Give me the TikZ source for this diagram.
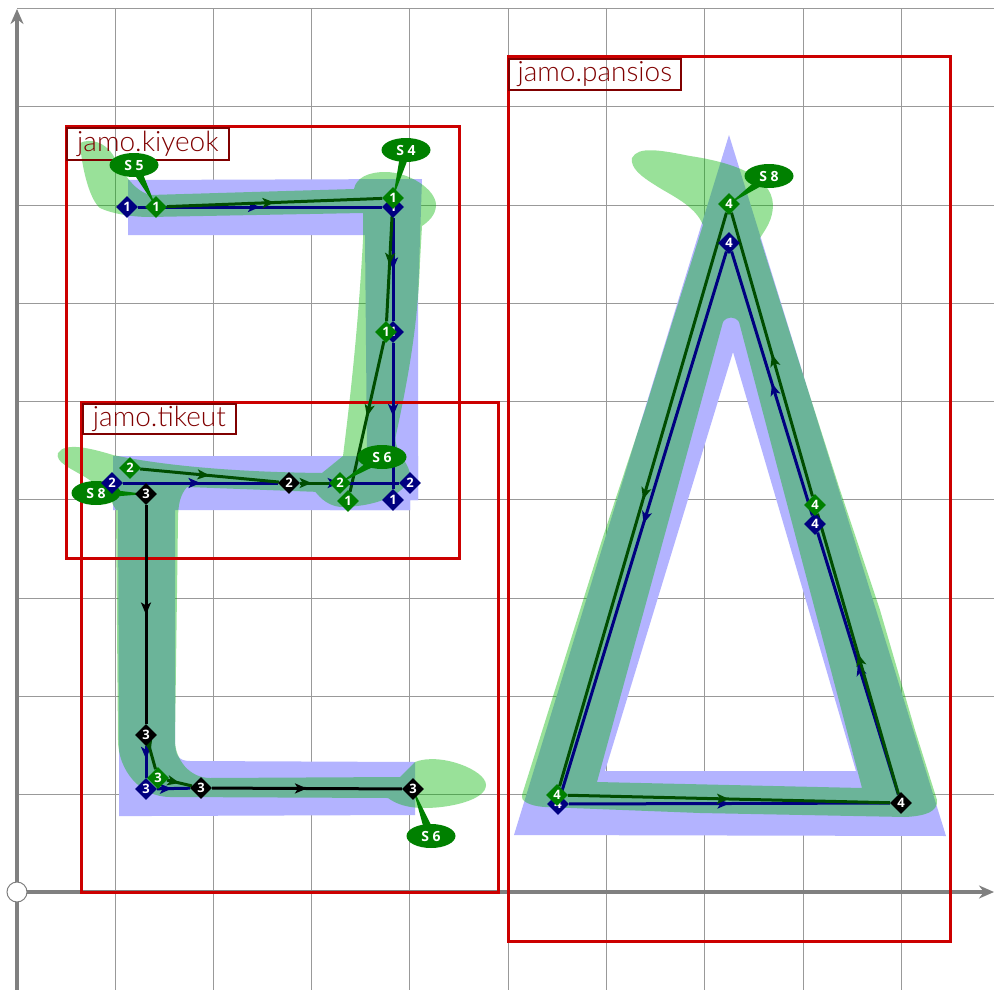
\documentclass[tikz,border=0pt]{standalone}
\usepackage{fontspec}
\setsansfont{Open Sans}
\newfontfamily\labelfont[UprightFont=* Light]{Lato}
\usetikzlibrary{shapes.geometric,arrows.meta,calc,decorations.markings}
\definecolor{jamoblue}{HTML}{B3B3FF}
\definecolor{jamogreen}{RGB}{0,182,0}
\definecolor{framered}{HTML}{CC0000}
\definecolor{labelred}{HTML}{800000}
\definecolor{strokegreen}{HTML}{004D00}
\definecolor{nodegreen}{HTML}{008000}
\definecolor{axisgray}{HTML}{808080}
\pgfdeclarelayer{back}
\pgfdeclarelayer{lines}
\pgfsetlayers{back,lines,main}
\begin{document}
\begin{tikzpicture}[
                x=1pt,y=-1pt,
                gridline/.style={
                    draw=axisgray!80,
                    line width=1pt
                },
                axisline/.style={
                    draw=axisgray,
                    line width=4.5pt
                },
                axisarrow/.style={
                    axisline,
                    -{Stealth[length=15pt,width=13pt]}
                },
                origin/.style={
                    circle,
                    draw=axisgray,
                    fill=white,
                    line width=1pt,
                    minimum size=20pt,
                    inner sep=0pt
                },
                frame/.style={
                    draw=framered,
                    line width=3pt
                },
                jamolabel/.style={
                    draw=labelred,
                    line width=1.8pt,
                    anchor=north west,
                    text=labelred,
                    inner sep=0pt,
                    font=\labelfont\fontsize{28}{30}\selectfont
                },
                point/.style={
                    diamond,
                    minimum width=22pt,
                    minimum height=22pt,
                    inner sep=0pt,
                    text=white,
                    font=\sffamily\bfseries\fontsize{13}{13}\selectfont
                },
                pointblue/.style={point,fill=blue!50!black},
                pointgreen/.style={point,fill=nodegreen},
                pointblack/.style={point,fill=black},
                callout/.style={
                    ellipse,
                    fill=nodegreen,
                    minimum width=49pt,
                    minimum height=24pt,
                    inner sep=0pt,
                    text=white,
                    font=\sffamily\bfseries\fontsize{14}{14}\selectfont
                },
                tail/.style={
                    fill=nodegreen
                },
                midarrow/.style={
                    postaction={decorate,decoration={markings,
                        mark=at position #1 with {\arrow{Stealth[length=12pt,width=10pt,inset=3pt]}}}}
                },
                midarrow/.default=0.5,
                strokeblue/.style={draw=blue!50!black,line width=3pt,midarrow=#1},
                strokeblue/.default=0.5,
                strokegr/.style={draw=strokegreen,line width=3pt,midarrow=#1},
                strokegr/.default=0.5,
                strokeblack/.style={draw=black,line width=3pt,midarrow=#1},
                strokeblack/.default=0.5
            ]
    \useasboundingbox (0,0) rectangle (994,990);

    % callouts
    \node[callout] (s5) at (134,165) {S 5};
    \node[callout] (s4) at (406,150) {S 4};
    \node[callout] (s6a) at (382,457) {S 6};
    \node[callout] (s8a) at (96,493) {S 8};
    \node[callout] (s6b) at (431,836) {S 6};
    \node[callout] (s8b) at (769,176) {S 8};

    % kiyeok points
    \node[pointblue] (kb1) at (127,207) {1};
    \node[pointblue] (kb2) at (393,207) {1};
    \node[pointblue] (kb3) at (393,332) {1};
    \node[pointblue] (kb4) at (393,500) {1};
    \node[pointgreen] (kg1) at (156,207) {1};
    \node[pointgreen] (kg2) at (393,198) {1};
    \node[pointgreen] (kg3) at (386,332) {1};
    \node[pointgreen] (kg4) at (348,501) {1};

    % tikeut points
    \node[pointblue] (tb1) at (112,483) {2};
    \node[pointblue] (tb2) at (410,483) {2};
    \node[pointblue] (tb3) at (146,789) {3};
    \node[pointgreen] (tg1) at (130,468) {2};
    \node[pointgreen] (tg2) at (340,483) {2};
    \node[pointgreen] (tg3) at (158,778) {3};
    \node[pointblack] (tk1) at (146,494) {3};
    \node[pointblack] (tk2) at (146,735) {3};
    \node[pointblack] (tk3) at (201,788) {3};
    \node[pointblack] (tk4) at (413,789) {3};
    \node[pointblack] (tk5) at (289,483) {2};

    % pansios points
    \node[pointblue] (pb1) at (558,804) {4};
    \node[pointblue] (pb2) at (815,524) {4};
    \node[pointblue] (pb3) at (729,243) {4};
    \node[pointgreen] (pg1) at (557,795) {4};
    \node[pointgreen] (pg2) at (815,505) {4};
    \node[pointgreen] (pg3) at (729,204) {4};
    \node[pointblack] (pk1) at (901,803) {4};

    \begin{pgfonlayer}{back}
        \fill[white] (0,0) rectangle (994,990);

        % grid
        \draw[gridline] (115,9) -- (115,990);
        \draw[gridline] (213,9) -- (213,990);
        \draw[gridline] (311,9) -- (311,990);
        \draw[gridline] (409,9) -- (409,990);
        \draw[gridline] (508,9) -- (508,990);
        \draw[gridline] (606,9) -- (606,990);
        \draw[gridline] (704,9) -- (704,990);
        \draw[gridline] (803,9) -- (803,990);
        \draw[gridline] (901,9) -- (901,990);
        \draw[gridline] (17,9) -- (994,9);
        \draw[gridline] (17,107) -- (994,107);
        \draw[gridline] (17,205) -- (994,205);
        \draw[gridline] (17,303) -- (994,303);
        \draw[gridline] (17,401) -- (994,401);
        \draw[gridline] (17,499) -- (994,499);
        \draw[gridline] (17,598) -- (994,598);
        \draw[gridline] (17,696) -- (994,696);
        \draw[gridline] (17,794) -- (994,794);

        % axes
        \coordinate (xend) at (994,892);
        \coordinate (yend) at (17,9);
        \coordinate (ybottom) at (17,990);
        \draw[axisarrow] (17,892) -- (xend);
        \draw[axisarrow] (17,892) -- (yend);
        \draw[axisline] (17,892) -- (ybottom);

        % blue outlines
        \fill[jamoblue] (128,180) -- (422,179) -- (418,300) -- (418,500) -- (410,500) -- (410,510)
            -- (330,510) -- (330,456) -- (367,456) -- (365,235) -- (128,235) -- cycle;
        \fill[jamoblue] (113,456) -- (418,456) -- (418,500) -- (410,500) -- (410,510) -- (175,510)
            -- (175,740) .. controls (175,755) and (178,761) .. (190,761) -- (415,762) -- (415,815)
            -- (150,816) -- (119,816) -- (119,740) -- (118,510) -- (113,510) -- cycle;
        \fill[jamoblue,even odd rule] (729,135) -- (946,836) -- (514,835) -- cycle
            (733,352) -- (856,771) -- (605,771) -- cycle;

        % green strokes
        \fill[jamogreen,fill opacity=0.4]
            (80,143) .. controls (90,138) and (105,142) .. (113,155)
                .. controls (122,170) and (132,190) .. (150,195) -- (354,189)
                .. controls (356,178) and (368,172) .. (385,172)
                .. controls (410,172) and (436,190) .. (436,205)
                .. controls (436,215) and (428,222) .. (422,226) -- (420,262)
                .. controls (418,320) and (410,370) .. (396,435)
                .. controls (392,450) and (412,465) .. (410,477)
                .. controls (405,495) and (375,507) .. (340,507)
                .. controls (325,505) and (318,495) .. (313,489) -- (322,473) -- (343,456)
                .. controls (350,400) and (358,330) .. (363,240) -- (363,213) -- (150,217)
                .. controls (130,217) and (110,213) .. (100,208)
                .. controls (90,200) and (82,170) .. (80,143) -- cycle
            (58,453) .. controls (65,442) and (90,448) .. (113,455)
                .. controls (160,465) and (230,472) .. (322,473) -- (345,480) -- (320,492) -- (187,487)
                .. controls (180,495) and (178,505) .. (178,520) -- (175,740)
                .. controls (175,760) and (190,778) .. (210,778) -- (400,777) -- (415,762)
                .. controls (440,752) and (486,770) .. (486,785)
                .. controls (486,800) and (450,808) .. (425,808)
                .. controls (405,808) and (395,803) .. (388,798) -- (170,797)
                .. controls (140,797) and (118,770) .. (118,740) -- (116,510) -- (105,490) -- (85,477)
                .. controls (70,468) and (55,462) .. (58,453) -- cycle;
        \fill[jamogreen,fill opacity=0.4,even odd rule]
            (632,158) .. controls (638,146) and (660,150) .. (690,156)
                .. controls (730,162) and (772,175) .. (773,205)
                .. controls (773,220) and (765,230) .. (760,238) -- (800,365) -- (840,490) -- (880,610)
                -- (915,730) -- (937,800)
                .. controls (938,812) and (925,816) .. (905,817) -- (700,813) -- (545,807)
                .. controls (528,806) and (520,800) .. (522,795) -- (533,760) -- (602,540) -- (645,410)
                -- (673,320) -- (692,260) -- (703,225)
                .. controls (695,205) and (670,195) .. (655,185)
                .. controls (642,177) and (630,168) .. (632,158) -- cycle
            (723,322) .. controls (727,316) and (735,316) .. (739,322) -- (862,788) -- (597,782) -- cycle;

        % frames
        \draw[frame] (66,126) rectangle (459,558);
        \draw[frame] (81,402) rectangle (498,892);
        \draw[frame] (508,57) rectangle (950,941);
        \node[jamolabel,minimum width=162pt,minimum height=32pt] (lkiyeok) at (66,127) {jamo.kiyeok};
        \node[jamolabel,minimum width=153pt,minimum height=30pt] (ltikeut) at (82,403) {jamo.tikeut};
        \node[jamolabel,minimum width=172pt,minimum height=31pt] (lpansios) at (508,58) {jamo.pansios};
    \end{pgfonlayer}
    \node[origin] (orig) at (17,892) {};

    \begin{pgfonlayer}{lines}
        \draw[strokeblue] (kb1) -- (kb2);
        \draw[strokeblue] (kb2) -- (kb3);
        \draw[strokeblue] (kb3) -- (kb4);
        \draw[strokegr] (kg1) -- (kg2);
        \draw[strokegr] (kg2) -- (kg3);
        \draw[strokegr] (kg3) -- (kg4);

        \draw[strokeblue] (tb1) -- (tk5);
        \draw[strokeblue=0.4] (tk5) -- (tb2);
        \draw[strokegr] (tg1) -- (tk5);
        \draw[strokegr=0.4] (tk5) -- (tg2);
        \draw[strokeblack] (tk1) -- (tk2);
        \draw[strokeblue=0.4] (tk2) -- (tb3);
        \draw[strokeblue=0.45] (tb3) -- (tk3);
        \draw[strokegr=0.3] (tk2) -- (tg3);
        \draw[strokegr] (tg3) -- (tk3);
        \draw[strokeblack] (tk3) -- (tk4);

        \draw[strokeblue] (pb1) -- (pk1);
        \draw[strokeblue] (pk1) -- (pb2);
        \draw[strokeblue] (pb2) -- (pb3);
        \draw[strokeblue] (pb3) -- (pb1);
        \draw[strokegr] (pg1) -- (pk1);
        \draw[strokegr] (pk1) -- (pg2);
        \draw[strokegr] (pg2) -- (pg3);
        \draw[strokegr] (pg3) -- (pg1);

        \fill[tail] ($(s5)!5pt!90:(kg1)$) -- (kg1.center) -- ($(s5)!5pt!-90:(kg1)$) -- cycle;
        \fill[tail] ($(s4)!5pt!90:(kg2)$) -- (kg2.center) -- ($(s4)!5pt!-90:(kg2)$) -- cycle;
        \fill[tail] ($(s6a)!5pt!90:(tg2)$) -- (tg2.center) -- ($(s6a)!5pt!-90:(tg2)$) -- cycle;
        \fill[tail] ($(s8a)!5pt!90:(tk1)$) -- (tk1.center) -- ($(s8a)!5pt!-90:(tk1)$) -- cycle;
        \fill[tail] ($(s6b)!5pt!90:(tk4)$) -- (tk4.center) -- ($(s6b)!5pt!-90:(tk4)$) -- cycle;
        \fill[tail] ($(s8b)!5pt!90:(pg3)$) -- (pg3.center) -- ($(s8b)!5pt!-90:(pg3)$) -- cycle;
    \end{pgfonlayer}
\end{tikzpicture}
\end{document}
